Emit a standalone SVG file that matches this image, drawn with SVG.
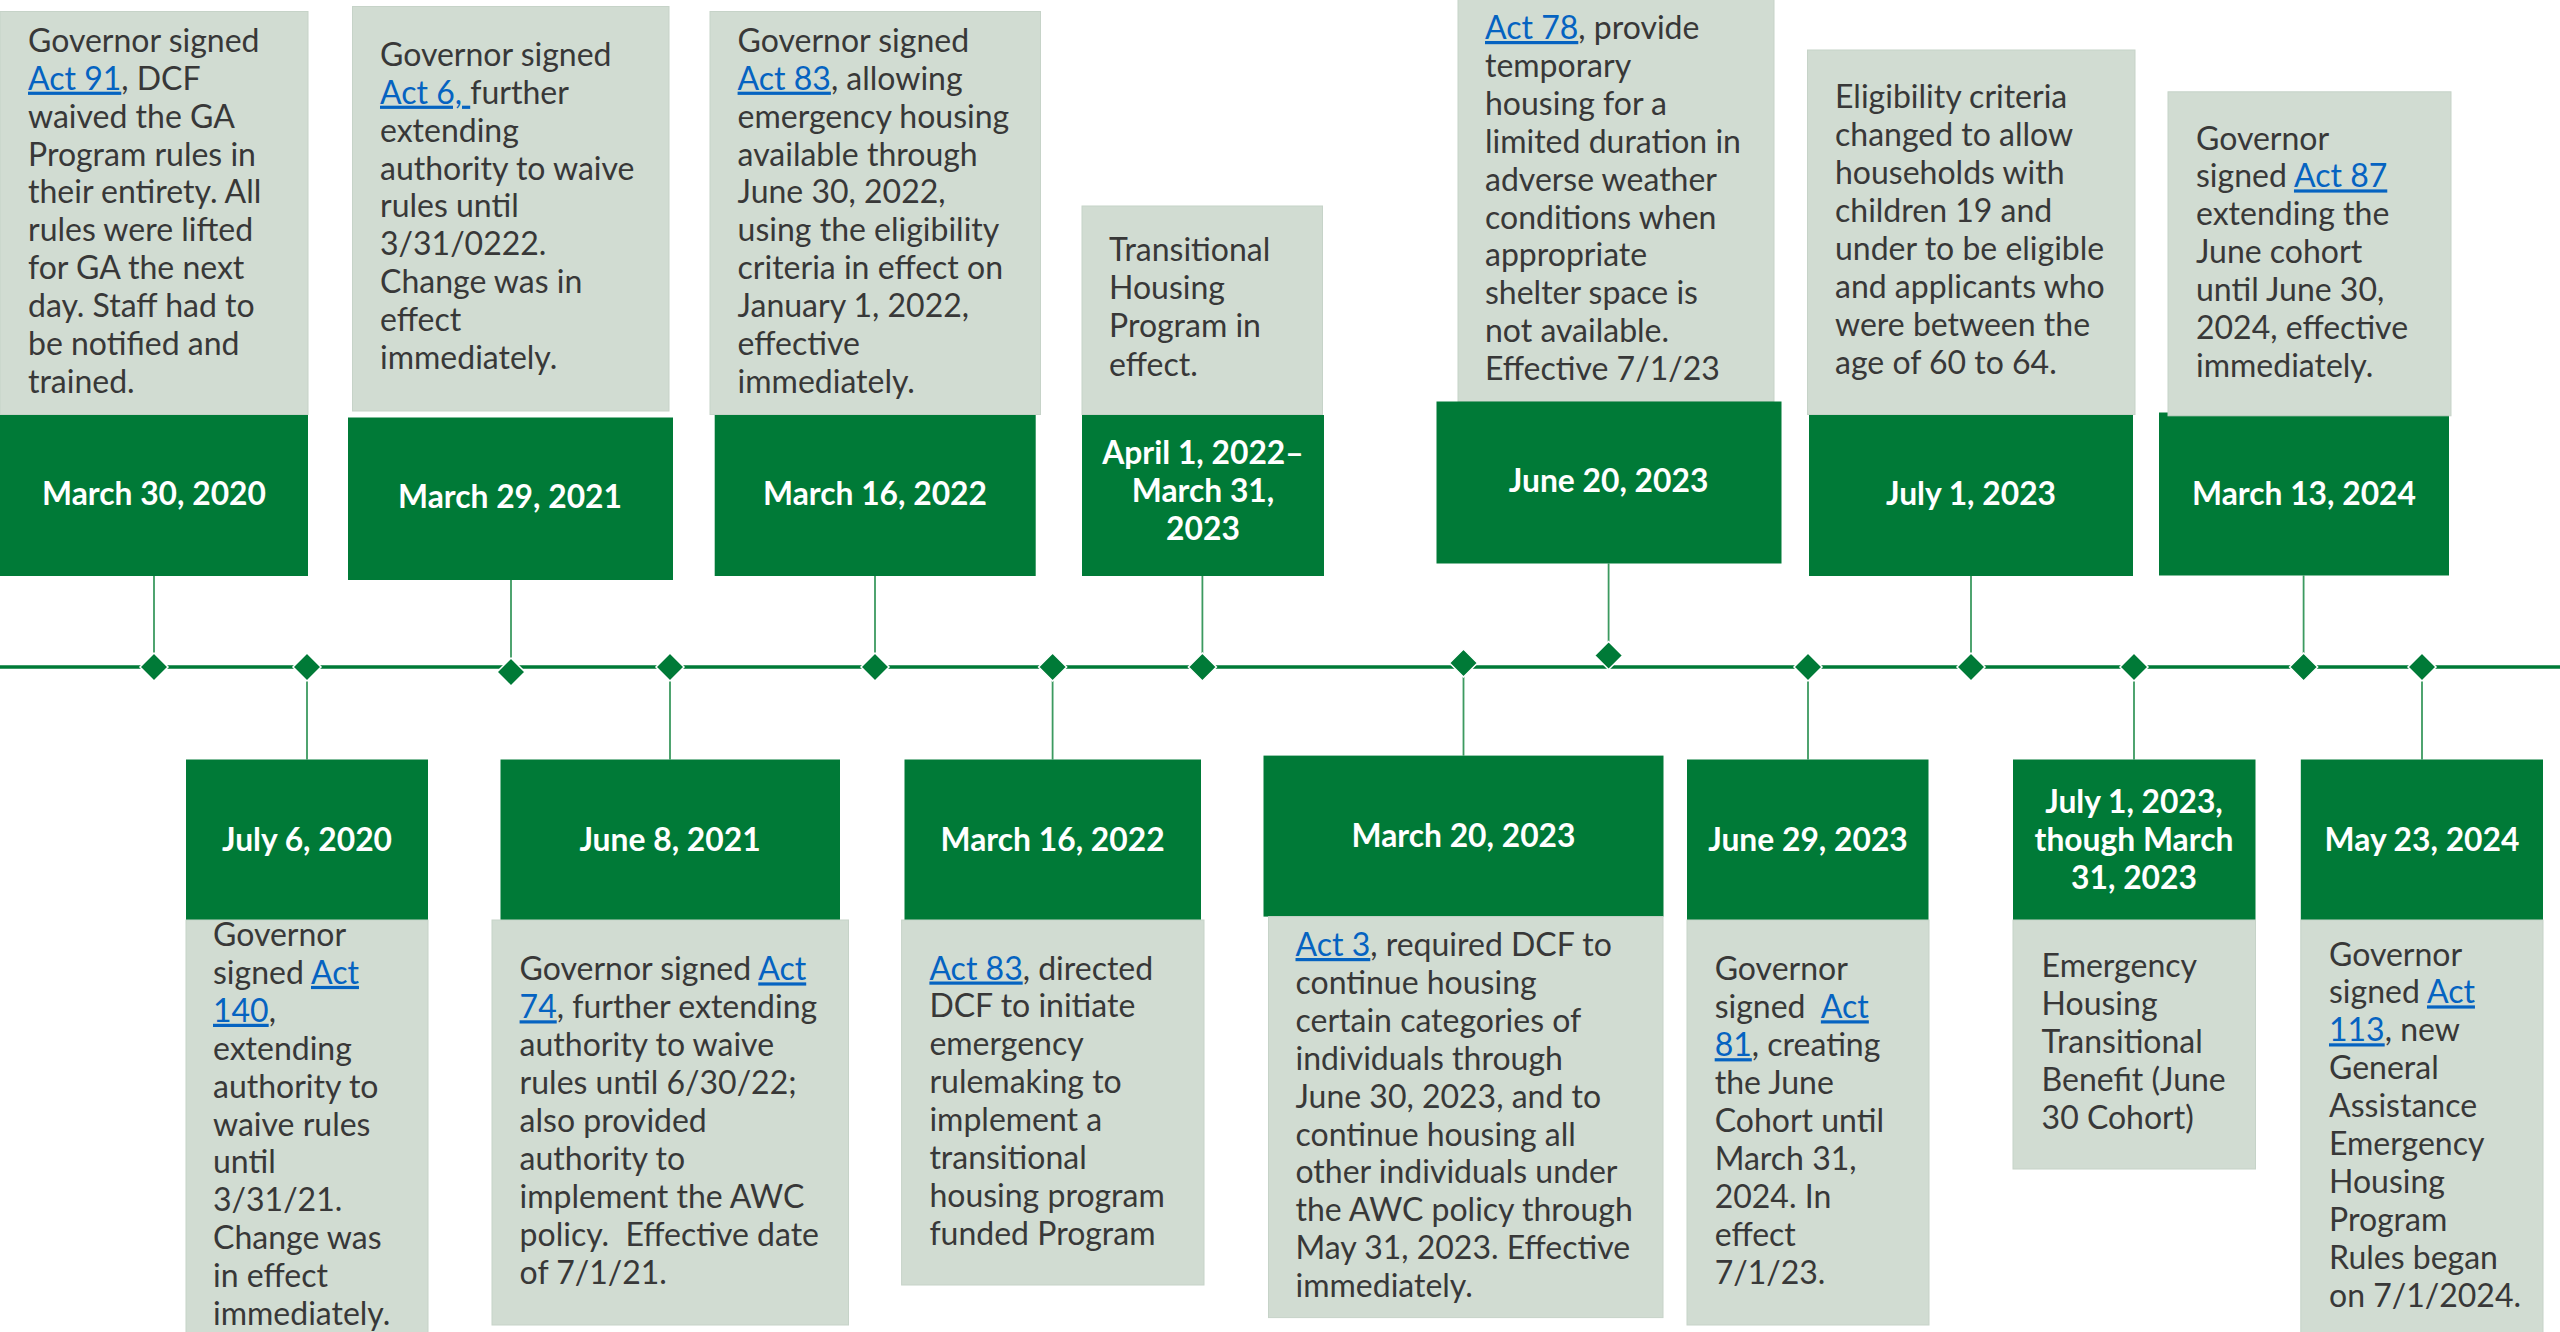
<svg xmlns="http://www.w3.org/2000/svg" xmlns:xlink="http://www.w3.org/1999/xlink" width="2560" height="1332" viewBox="0 0 2560 1332">
<style>
.gray{fill:#D1DCD2;stroke:#C6D3C8;stroke-width:1}
.green{fill:#007A37}
.body{font-family:Lato,"Liberation Sans",sans-serif;font-size:32px;fill:#383838}
.lk{fill:#0563C1;text-decoration:underline}
.date{font-family:Lato,"Liberation Sans",sans-serif;font-size:31.8px;font-weight:bold;fill:#FFFFFF;text-anchor:middle}
.conn{stroke:#3C9A60;stroke-width:1.8;fill:none}
.axis{stroke:#007A37;stroke-width:3.5;fill:none}
.dia{fill:#007A37;stroke:#FFFFFF;stroke-width:1.5}
</style>
<defs>
<path id="dia" class="dia" d="M0,-14 L14,0 L0,14 L-14,0 Z"/>
</defs>
<rect width="2560" height="1332" fill="#FFFFFF"/>

<g id="connectors">
<line class="axis" x1="0" y1="667" x2="2560" y2="667"/>
<line class="conn" x1="154" y1="576" x2="154" y2="667"/>
<line class="conn" x1="511" y1="580" x2="511" y2="672"/>
<line class="conn" x1="875" y1="576" x2="875" y2="667"/>
<line class="conn" x1="1202.4" y1="576" x2="1202.4" y2="667"/>
<line class="conn" x1="1608.6" y1="563.5" x2="1608.6" y2="655.5"/>
<line class="conn" x1="1971" y1="576" x2="1971" y2="667"/>
<line class="conn" x1="2303.6" y1="575.5" x2="2303.6" y2="667"/>
<line class="conn" x1="307" y1="667" x2="307" y2="759.5"/>
<line class="conn" x1="670" y1="667" x2="670" y2="759.5"/>
<line class="conn" x1="1052.6" y1="667" x2="1052.6" y2="759.5"/>
<line class="conn" x1="1463.5" y1="663" x2="1463.5" y2="755.6"/>
<line class="conn" x1="1808" y1="667" x2="1808" y2="759.5"/>
<line class="conn" x1="2134" y1="667" x2="2134" y2="759.5"/>
<line class="conn" x1="2422" y1="667" x2="2422" y2="759.5"/>
<use href="#dia" x="154" y="667"/>
<use href="#dia" x="307" y="667"/>
<use href="#dia" x="511" y="672"/>
<use href="#dia" x="670" y="667"/>
<use href="#dia" x="875" y="667"/>
<use href="#dia" x="1052.6" y="667"/>
<use href="#dia" x="1202.4" y="667"/>
<use href="#dia" x="1463.5" y="663"/>
<use href="#dia" x="1608.6" y="655.5"/>
<use href="#dia" x="1808" y="667"/>
<use href="#dia" x="1971" y="667"/>
<use href="#dia" x="2134" y="667"/>
<use href="#dia" x="2303.6" y="667"/>
<use href="#dia" x="2422" y="667"/>
</g>

<g id="node-mar30-2020">
<rect class="gray" x="0" y="11.5" width="308" height="403"/>
<rect class="green" x="0" y="415" width="308" height="161"/>
<text class="body" x="28" y="51.8">Governor signed</text>
<text class="body" x="28" y="89.7"><tspan class="lk">Act 91</tspan>, DCF</text>
<text class="body" x="28" y="127.6">waived the GA</text>
<text class="body" x="28" y="165.5">Program rules in</text>
<text class="body" x="28" y="203.4">their entirety. All</text>
<text class="body" x="28" y="241.3">rules were lifted</text>
<text class="body" x="28" y="279.2">for GA the next</text>
<text class="body" x="28" y="317.1">day. Staff had to</text>
<text class="body" x="28" y="355">be notified and</text>
<text class="body" x="28" y="392.9">trained.</text>
<text class="date" x="154" y="504.7">March 30, 2020</text>
</g>

<g id="node-mar29-2021">
<rect class="gray" x="352.5" y="6.5" width="316.5" height="404.5"/>
<rect class="green" x="348" y="417.5" width="325" height="162.5"/>
<text class="body" x="380" y="65.8">Governor signed</text>
<text class="body" x="380" y="103.7" style="white-space:pre"><tspan class="lk">Act 6, </tspan>further</text>
<text class="body" x="380" y="141.6">extending</text>
<text class="body" x="380" y="179.5">authority to waive</text>
<text class="body" x="380" y="217.4">rules until</text>
<text class="body" x="380" y="255.3">3/31/0222.</text>
<text class="body" x="380" y="293.2">Change was in</text>
<text class="body" x="380" y="331.1">effect</text>
<text class="body" x="380" y="369">immediately.</text>
<text class="date" x="510" y="507.6">March 29, 2021</text>
</g>

<g id="node-mar16-2022-top">
<rect class="gray" x="710" y="11.5" width="330.5" height="403"/>
<rect class="green" x="714.7" y="415" width="321" height="161"/>
<text class="body" x="737.6" y="51.8">Governor signed</text>
<text class="body" x="737.6" y="89.7"><tspan class="lk">Act 83</tspan>, allowing</text>
<text class="body" x="737.6" y="127.6">emergency housing</text>
<text class="body" x="737.6" y="165.5">available through</text>
<text class="body" x="737.6" y="203.4">June 30, 2022,</text>
<text class="body" x="737.6" y="241.3">using the eligibility</text>
<text class="body" x="737.6" y="279.2">criteria in effect on</text>
<text class="body" x="737.6" y="317.1">January 1, 2022,</text>
<text class="body" x="737.6" y="355">effective</text>
<text class="body" x="737.6" y="392.9">immediately.</text>
<text class="date" x="875" y="504.7">March 16, 2022</text>
</g>

<g id="node-apr1-2022">
<rect class="gray" x="1082" y="206" width="240.5" height="208.5"/>
<rect class="green" x="1082" y="415" width="242" height="161"/>
<text class="body" x="1109" y="261">Transitional</text>
<text class="body" x="1109" y="299.2">Housing</text>
<text class="body" x="1109" y="337.4">Program in</text>
<text class="body" x="1109" y="375.6">effect.</text>
<text class="date" x="1203" y="464">April 1, 2022–</text>
<text class="date" x="1203" y="502.2">March 31,</text>
<text class="date" x="1203" y="540.4">2023</text>
</g>

<g id="node-jun20-2023">
<rect class="gray" x="1458" y="-1" width="316" height="402.5"/>
<rect class="green" x="1436.5" y="401.5" width="345" height="162"/>
<text class="body" x="1485" y="39"><tspan class="lk">Act 78</tspan>, provide</text>
<text class="body" x="1485" y="76.9">temporary</text>
<text class="body" x="1485" y="114.8">housing for a</text>
<text class="body" x="1485" y="152.7">limited duration in</text>
<text class="body" x="1485" y="190.6">adverse weather</text>
<text class="body" x="1485" y="228.5">conditions when</text>
<text class="body" x="1485" y="266.4">appropriate</text>
<text class="body" x="1485" y="304.3">shelter space is</text>
<text class="body" x="1485" y="342.2">not available.</text>
<text class="body" x="1485" y="380.1">Effective 7/1/23</text>
<text class="date" x="1608.6" y="492">June 20, 2023</text>
</g>

<g id="node-jul1-2023-top">
<rect class="gray" x="1807.5" y="50" width="327.5" height="364.5"/>
<rect class="green" x="1809" y="415" width="324" height="161"/>
<text class="body" x="1835" y="108.3">Eligibility criteria</text>
<text class="body" x="1835" y="146.2">changed to allow</text>
<text class="body" x="1835" y="184.1">households with</text>
<text class="body" x="1835" y="222">children 19 and</text>
<text class="body" x="1835" y="259.9">under to be eligible</text>
<text class="body" x="1835" y="297.8">and applicants who</text>
<text class="body" x="1835" y="335.7">were between the</text>
<text class="body" x="1835" y="373.6">age of 60 to 64.</text>
<text class="date" x="1971" y="504.7">July 1, 2023</text>
</g>

<g id="node-mar13-2024">
<rect class="green" x="2159" y="412.5" width="290" height="163"/>
<rect class="gray" x="2168" y="91.8" width="283" height="324"/>
<text class="body" x="2196" y="149.5">Governor</text>
<text class="body" x="2196" y="187.4">signed <tspan class="lk">Act 87</tspan></text>
<text class="body" x="2196" y="225.3">extending the</text>
<text class="body" x="2196" y="263.2">June cohort</text>
<text class="body" x="2196" y="301.1">until June 30,</text>
<text class="body" x="2196" y="339">2024, effective</text>
<text class="body" x="2196" y="376.9">immediately.</text>
<text class="date" x="2304" y="504.7">March 13, 2024</text>
</g>

<g id="node-jul6-2020">
<rect class="green" x="186" y="759.5" width="242" height="160.5"/>
<rect class="gray" x="186" y="920" width="242" height="420"/>
<text class="date" x="307" y="850.8">July 6, 2020</text>
<text class="body" x="213" y="946">Governor</text>
<text class="body" x="213" y="983.9">signed <tspan class="lk">Act</tspan></text>
<text class="body" x="213" y="1021.8"><tspan class="lk">140</tspan>,</text>
<text class="body" x="213" y="1059.7">extending</text>
<text class="body" x="213" y="1097.6">authority to</text>
<text class="body" x="213" y="1135.5">waive rules</text>
<text class="body" x="213" y="1173.4">until</text>
<text class="body" x="213" y="1211.3">3/31/21.</text>
<text class="body" x="213" y="1249.2">Change was</text>
<text class="body" x="213" y="1287.1">in effect</text>
<text class="body" x="213" y="1325">immediately.</text>
</g>

<g id="node-jun8-2021">
<rect class="green" x="500.5" y="759.5" width="339.5" height="160.5"/>
<rect class="gray" x="492" y="920" width="356.5" height="405"/>
<text class="date" x="670" y="850.8">June 8, 2021</text>
<text class="body" x="519.6" y="980.4">Governor signed <tspan class="lk">Act</tspan></text>
<text class="body" x="519.6" y="1018.3"><tspan class="lk">74</tspan>, further extending</text>
<text class="body" x="519.6" y="1056.2">authority to waive</text>
<text class="body" x="519.6" y="1094.1">rules until 6/30/22;</text>
<text class="body" x="519.6" y="1132">also provided</text>
<text class="body" x="519.6" y="1169.9">authority to</text>
<text class="body" x="519.6" y="1207.8">implement the AWC</text>
<text class="body" x="519.6" y="1245.7" style="white-space:pre">policy.  Effective date</text>
<text class="body" x="519.6" y="1283.6">of 7/1/21.</text>
</g>

<g id="node-mar16-2022-bottom">
<rect class="green" x="904.5" y="759.5" width="296.5" height="160.5"/>
<rect class="gray" x="901.6" y="920" width="302.4" height="365"/>
<text class="date" x="1052.6" y="850.8">March 16, 2022</text>
<text class="body" x="929.4" y="979.5"><tspan class="lk">Act 83</tspan>, directed</text>
<text class="body" x="929.4" y="1017.4">DCF to initiate</text>
<text class="body" x="929.4" y="1055.3">emergency</text>
<text class="body" x="929.4" y="1093.2">rulemaking to</text>
<text class="body" x="929.4" y="1131.1">implement a</text>
<text class="body" x="929.4" y="1169">transitional</text>
<text class="body" x="929.4" y="1206.9">housing program</text>
<text class="body" x="929.4" y="1244.8">funded Program</text>
</g>

<g id="node-mar20-2023">
<rect class="green" x="1263.5" y="755.6" width="400" height="161"/>
<rect class="gray" x="1268.5" y="916.6" width="394.5" height="401"/>
<text class="date" x="1463.5" y="846.5">March 20, 2023</text>
<text class="body" x="1295.5" y="956"><tspan class="lk">Act 3</tspan>, required DCF to</text>
<text class="body" x="1295.5" y="993.9">continue housing</text>
<text class="body" x="1295.5" y="1031.8">certain categories of</text>
<text class="body" x="1295.5" y="1069.7">individuals through</text>
<text class="body" x="1295.5" y="1107.6">June 30, 2023, and to</text>
<text class="body" x="1295.5" y="1145.5">continue housing all</text>
<text class="body" x="1295.5" y="1183.4">other individuals under</text>
<text class="body" x="1295.5" y="1221.3">the AWC policy through</text>
<text class="body" x="1295.5" y="1259.2">May 31, 2023. Effective</text>
<text class="body" x="1295.5" y="1297.1">immediately.</text>
</g>

<g id="node-jun29-2023">
<rect class="green" x="1687" y="759.5" width="241.5" height="160.5"/>
<rect class="gray" x="1687" y="920" width="242" height="405"/>
<text class="date" x="1808" y="850.8">June 29, 2023</text>
<text class="body" x="1714.7" y="980.4">Governor</text>
<text class="body" x="1714.7" y="1018.3" style="white-space:pre">signed  <tspan class="lk">Act</tspan></text>
<text class="body" x="1714.7" y="1056.2"><tspan class="lk">81</tspan>, creating</text>
<text class="body" x="1714.7" y="1094.1">the June</text>
<text class="body" x="1714.7" y="1132">Cohort until</text>
<text class="body" x="1714.7" y="1169.9">March 31,</text>
<text class="body" x="1714.7" y="1207.8">2024. In</text>
<text class="body" x="1714.7" y="1245.7">effect</text>
<text class="body" x="1714.7" y="1283.6">7/1/23.</text>
</g>

<g id="node-jul1-2023-bottom">
<rect class="green" x="2013" y="759.5" width="242.5" height="160.5"/>
<rect class="gray" x="2013" y="920" width="242.5" height="249"/>
<text class="date" x="2134" y="812.6">July 1, 2023,</text>
<text class="date" x="2134" y="850.8">though March</text>
<text class="date" x="2134" y="889">31, 2023</text>
<text class="body" x="2041.6" y="977.4">Emergency</text>
<text class="body" x="2041.6" y="1015.3">Housing</text>
<text class="body" x="2041.6" y="1053.2">Transitional</text>
<text class="body" x="2041.6" y="1091.1">Benefit (June</text>
<text class="body" x="2041.6" y="1129">30 Cohort)</text>
</g>

<g id="node-may23-2024">
<rect class="green" x="2300.8" y="759.5" width="242.2" height="160.5"/>
<rect class="gray" x="2300.8" y="920" width="242.2" height="420"/>
<text class="date" x="2422" y="850.8">May 23, 2024</text>
<text class="body" x="2329" y="965.5">Governor</text>
<text class="body" x="2329" y="1003.4">signed <tspan class="lk">Act</tspan></text>
<text class="body" x="2329" y="1041.3"><tspan class="lk">113</tspan>, new</text>
<text class="body" x="2329" y="1079.2">General</text>
<text class="body" x="2329" y="1117.1">Assistance</text>
<text class="body" x="2329" y="1155">Emergency</text>
<text class="body" x="2329" y="1192.9">Housing</text>
<text class="body" x="2329" y="1230.8">Program</text>
<text class="body" x="2329" y="1268.7">Rules began</text>
<text class="body" x="2329" y="1306.6">on 7/1/2024.</text>
</g>
</svg>
